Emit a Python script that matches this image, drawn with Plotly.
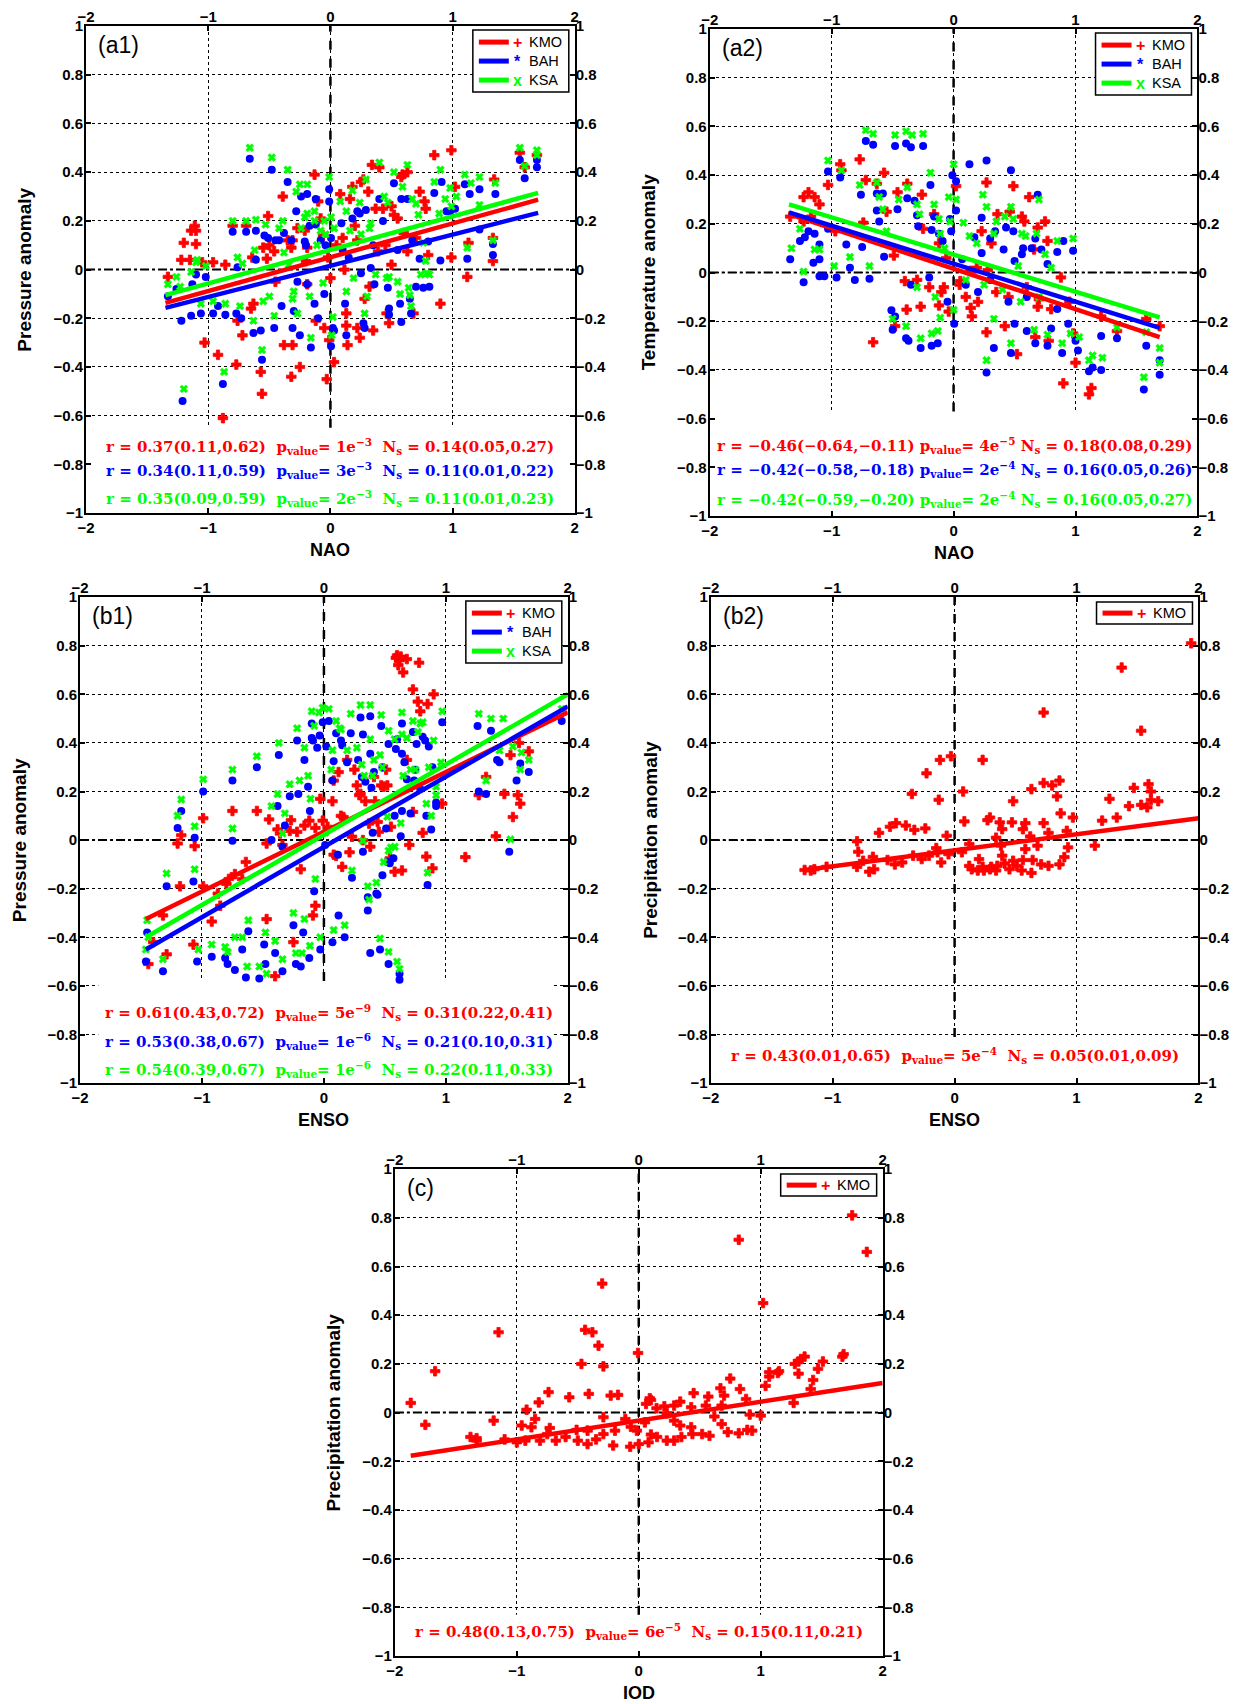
import plotly.graph_objects as go

W, H = 1242, 1704          # target picture size
OFF = 8                    # default page margin around the figure
S = 0.99                   # observed page-to-picture scale
FW, FH = 1238, 1705        # figure size in page pixels
RED, BLUE, GREEN = "#ff0000", "#0000ff", "#00ff00"

# ---------------- data (index value, anomaly) ----------------
A1_KMO = [(-1.33,-0.03),(-1.22,0.04),(-1.20,0.11),(-1.14,0.16),(-1.11,0.18),(-1.10,0.16),(-1.10,0.105),(-1.15,0.04),(-1.05,0.03),(-0.96,0.03),(-0.86,0.02),(-1.03,-0.30),(-0.92,-0.35),(-0.88,-0.61),(-0.77,-0.39),(-0.72,-0.27),(-0.76,-0.21),(-0.80,0.18),(-0.69,0.18),(-0.64,0.05),(-0.65,-0.16),(-0.63,-0.14),(-0.57,-0.42),(-0.56,-0.51),(-0.55,0.09),(-0.52,0.045),(-0.51,0.22),(-0.50,0.10),(-0.46,0.075),(-0.39,0.30),(-0.38,-0.31),(-0.31,-0.31),(-0.32,-0.44),(-0.25,-0.40),(-0.32,0.09),(-0.31,0.12),(-0.27,0.17),(-0.21,0.16),(-0.20,0.035),(-0.19,0.09),(-0.19,-0.06),(-0.13,0.39),(-0.10,0.28),(-0.08,0.21),(-0.06,0.14),(-0.12,-0.21),(-0.05,-0.24),(-0.03,-0.45),(-0.01,-0.29),(0.0,-0.035),(0.03,-0.38),(0.08,0.31),(0.115,0.0),(0.13,-0.18),(0.13,-0.23),(0.14,-0.31),(0.16,0.29),(0.18,0.34),(0.20,0.18),(0.22,-0.24),(0.24,-0.28),(0.25,0.36),(0.27,0.37),(0.31,0.32),(0.34,0.43),(0.40,0.42),(0.35,-0.25),(0.32,-0.07),(0.37,0.25),(0.39,0.075),(0.43,0.25),(0.46,-0.18),(0.48,-0.22),(0.50,0.02),(0.50,0.26),(0.52,0.225),(0.55,0.21),(0.58,0.38),(0.59,0.39),(0.63,0.40),(0.63,0.075),(0.68,-0.18),(0.73,0.32),(0.77,0.28),(0.78,0.25),(0.80,0.06),(0.85,0.47),(0.90,-0.14),(0.99,0.49),(0.99,0.05),(1.02,0.34),(1.13,0.11),(1.12,-0.03),(1.34,0.37),(1.33,0.035),(1.33,0.13),(1.55,0.48),(1.59,0.42),(1.69,0.47),(-0.35,0.12),(0.05,0.10),(0.10,0.13),(0.22,0.12),(0.60,0.15),(-0.45,-0.05),(0.28,-0.12),(-0.02,0.05),(0.45,0.10),(0.70,0.13)]
A1_BAH = [(-1.33,-0.11),(-1.26,-0.08),(-1.22,-0.21),(-1.21,-0.54),(-1.14,-0.19),(-1.13,-0.06),(-1.10,-0.02),(-1.06,-0.18),(-1.02,-0.03),(-0.96,-0.18),(-0.92,-0.15),(-0.88,-0.47),(-0.86,-0.185),(-0.80,0.155),(-0.77,-0.18),(-0.73,-0.20),(-0.76,0.01),(-0.69,0.155),(-0.66,0.455),(-0.63,-0.26),(-0.61,0.16),(-0.61,0.04),(-0.57,-0.25),(-0.56,-0.37),(-0.54,0.14),(-0.51,0.13),(-0.48,0.41),(-0.46,-0.24),(-0.42,0.12),(-0.40,-0.15),(-0.38,0.15),(-0.35,0.36),(-0.32,0.12),(-0.31,-0.24),(-0.30,-0.17),(-0.28,0.24),(-0.27,-0.05),(-0.25,-0.27),(-0.24,0.30),(-0.21,0.115),(-0.19,0.31),(-0.19,-0.06),(-0.17,0.18),(-0.16,-0.32),(-0.13,-0.14),(-0.12,0.185),(-0.12,0.29),(-0.10,-0.20),(-0.05,-0.10),(-0.04,0.10),(-0.01,0.33),(-0.01,0.28),(0.005,-0.315),(0.02,-0.24),(0.005,0.13),(0.03,-0.25),(0.09,0.19),(0.12,-0.14),(0.13,-0.27),(0.18,0.21),(0.22,0.24),(0.24,0.23),(0.25,-0.015),(0.27,-0.22),(0.28,-0.24),(0.29,0.245),(0.33,0.007),(0.36,-0.06),(0.40,0.29),(0.43,0.20),(0.47,-0.075),(0.48,-0.16),(0.48,-0.185),(0.52,0.355),(0.57,-0.14),(0.58,0.29),(0.58,-0.215),(0.63,0.29),(0.65,-0.12),(0.66,-0.18),(0.67,0.12),(0.70,-0.07),(0.73,0.045),(0.76,-0.075),(0.80,0.115),(0.81,-0.07),(0.85,0.315),(0.90,0.037),(0.91,0.36),(0.95,0.24),(0.98,0.24),(1.02,0.25),(1.10,0.35),(1.12,0.045),(1.14,0.31),(1.22,0.33),(1.22,0.165),(1.33,0.06),(1.33,0.105),(1.35,0.31),(1.55,0.45),(1.59,0.375),(1.69,0.45),(1.69,0.42),(-0.45,0.12),(-0.20,0.10),(0.10,0.08),(0.15,0.05),(0.35,0.10),(-0.08,0.12),(0.55,0.08)]
A1_KSA = [(-1.33,-0.06),(-1.26,-0.03),(-1.20,-0.49),(-1.23,-0.07),(-1.14,-0.01),(-1.10,0.03),(-1.09,0.04),(-1.06,-0.14),(-1.02,0.015),(-0.96,-0.13),(-0.87,-0.42),(-0.86,-0.14),(-0.80,0.20),(-0.76,0.05),(-0.74,-0.15),(-0.72,0.025),(-0.69,0.20),(-0.66,0.50),(-0.62,0.08),(-0.61,0.205),(-0.63,-0.21),(-0.56,-0.33),(-0.55,-0.13),(-0.53,0.185),(-0.50,-0.11),(-0.48,0.46),(-0.46,-0.19),(-0.42,0.17),(-0.39,0.20),(-0.38,0.07),(-0.35,0.41),(-0.34,0.02),(-0.31,-0.12),(-0.30,-0.09),(-0.28,0.32),(-0.27,-0.18),(-0.25,0.35),(-0.24,0.17),(-0.21,0.215),(-0.19,0.35),(-0.19,0.23),(-0.17,-0.11),(-0.16,-0.28),(-0.13,0.20),(-0.13,0.24),(-0.11,0.10),(-0.08,0.16),(-0.06,-0.055),(-0.05,0.20),(-0.04,0.145),(-0.01,0.38),(0.005,0.215),(0.02,-0.195),(0.01,-0.27),(0.03,0.17),(0.08,0.28),(0.13,0.24),(0.13,-0.09),(0.16,0.16),(0.18,0.325),(0.19,-0.035),(0.24,0.275),(0.25,0.145),(0.28,-0.18),(0.30,-0.11),(0.29,0.37),(0.32,0.17),(0.33,0.19),(0.37,-0.02),(0.40,0.44),(0.44,0.30),(0.46,-0.035),(0.47,0.275),(0.48,-0.03),(0.52,0.40),(0.55,-0.05),(0.57,-0.10),(0.59,0.34),(0.63,0.43),(0.64,-0.075),(0.65,-0.105),(0.66,-0.15),(0.67,0.29),(0.70,0.27),(0.72,0.225),(0.74,-0.02),(0.76,0.11),(0.78,0.035),(0.79,-0.015),(0.81,-0.02),(0.85,0.36),(0.89,0.23),(0.90,0.41),(0.94,0.29),(0.98,0.335),(0.99,0.26),(1.03,0.30),(1.10,0.39),(1.12,0.09),(1.15,0.355),(1.22,0.38),(1.22,0.265),(1.33,0.12),(1.35,0.355),(1.55,0.50),(1.59,0.425),(1.69,0.49),(1.69,0.47)]
A1_FIT_X = [-1.35, 1.70]
A1_KMO_FIT = [-0.137, 0.287]
A1_BAH_FIT = [-0.157, 0.233]
A1_KSA_FIT = [-0.105, 0.315]

A2_KMO = [(-1.34,0.23),(-1.23,0.31),(-1.19,0.33),(-1.14,0.31),(-1.10,0.28),(-1.23,0.21),(-1.17,0.23),(-1.03,0.36),(-0.93,0.445),(-0.97,0.17),(-0.92,0.42),(-0.77,0.465),(-0.74,0.205),(-0.72,0.38),(-0.63,0.365),(-0.57,0.41),(-0.55,0.25),(-0.49,0.07),(-0.46,0.33),(-0.38,0.365),(-0.40,-0.035),(-0.26,0.32),(-0.25,0.18),(-0.16,0.24),(-0.12,0.12),(-0.08,-0.06),(-0.06,0.06),(0.02,0.355),(0.055,-0.035),(0.14,0.007),(0.19,0.02),(0.23,0.17),(0.27,0.37),(0.28,0.01),(0.31,0.12),(0.36,0.24),(0.46,0.25),(0.49,0.355),(0.56,0.23),(0.58,0.21),(0.62,0.31),(0.66,0.095),(0.69,0.185),(0.75,0.21),(0.77,0.13),(0.88,-0.02),(-0.66,-0.286),(-0.48,-0.22),(-0.385,-0.152),(-0.27,-0.14),(-0.12,-0.135),(-0.04,-0.16),(0.14,-0.145),(0.15,-0.18),(0.27,-0.245),(0.42,-0.22),(0.52,-0.335),(0.67,-0.265),(0.69,-0.14),(0.78,-0.28),(0.90,-0.455),(0.98,-0.25),(1.00,-0.37),(1.11,-0.50),(1.13,-0.474),(1.21,-0.18),(1.34,-0.24),(1.58,-0.19),(1.69,-0.22),(0.05,-0.05),(0.10,-0.10),(0.20,-0.12),(0.35,-0.08),(0.45,-0.10),(0.60,-0.06),(0.70,-0.11),(0.80,-0.15),(0.95,-0.12),(-0.30,-0.03),(-0.20,-0.06),(-0.10,-0.08)]
A2_BAH = [(-1.34,0.055),(-1.23,-0.04),(-1.26,0.13),(-1.22,0.145),(-1.19,0.17),(-1.14,0.16),(-1.15,0.04),(-1.10,-0.015),(-1.10,0.055),(-1.10,0.115),(-1.06,-0.015),(-1.03,0.415),(-1.03,0.18),(-0.96,-0.02),(-0.93,0.39),(-0.88,0.115),(-0.85,0.02),(-0.81,-0.03),(-0.76,0.32),(-0.75,0.105),(-0.72,0.54),(-0.69,-0.025),(-0.66,0.525),(-0.63,0.325),(-0.63,0.255),(-0.61,0.21),(-0.58,0.325),(-0.57,0.065),(-0.48,0.52),(-0.46,0.26),(-0.39,0.53),(-0.38,0.305),(-0.35,0.515),(-0.32,0.295),(-0.30,0.235),(-0.29,0.19),(-0.25,0.52),(-0.19,0.36),(-0.18,0.175),(-0.16,0.23),(-0.12,0.16),(-0.09,0.13),(-0.03,0.22),(-0.02,0.17),(-0.01,0.40),(0.02,0.375),(0.02,0.255),(0.07,0.055),(0.13,0.445),(0.17,0.145),(0.23,0.08),(0.27,0.46),(0.23,0.225),(0.30,0.14),(0.34,0.17),(0.41,0.095),(0.43,0.185),(0.47,0.42),(0.49,0.17),(0.50,0.048),(0.56,0.075),(0.57,0.10),(0.64,0.10),(0.67,0.14),(0.69,0.32),(0.72,0.095),(0.77,0.035),(0.85,0.085),(0.90,0.13),(0.98,0.09),(-0.51,-0.155),(-0.48,-0.18),(-0.50,-0.235),(-0.39,-0.27),(-0.37,-0.28),(-0.27,-0.31),(-0.18,-0.30),(-0.13,-0.29),(-0.05,-0.12),(0.005,-0.21),(0.27,-0.41),(0.33,-0.31),(0.47,-0.33),(0.50,-0.21),(0.60,-0.24),(0.67,-0.29),(0.77,-0.30),(0.80,-0.23),(0.89,-0.33),(0.94,-0.21),(1.00,-0.28),(1.02,-0.32),(1.11,-0.405),(1.14,-0.39),(1.21,-0.40),(1.21,-0.26),(1.34,-0.27),(1.56,-0.48),(1.58,-0.30),(1.69,-0.36),(1.69,-0.42),(0.10,-0.05),(0.20,-0.08),(0.30,-0.03),(0.45,-0.12),(0.60,-0.10),(-0.20,-0.02),(-0.35,-0.05),(0.85,-0.15)]
A2_KSA = [(-1.33,0.10),(-1.26,0.18),(-1.23,0.004),(-1.14,0.095),(-1.10,0.095),(-1.03,0.46),(-0.98,0.027),(-0.92,0.42),(-0.85,0.064),(-0.77,0.36),(-0.72,0.585),(-0.69,0.027),(-0.66,0.57),(-0.63,0.37),(-0.61,0.31),(-0.58,0.26),(-0.55,0.17),(-0.48,0.565),(-0.45,0.30),(-0.39,0.58),(-0.38,0.35),(-0.34,0.565),(-0.30,0.28),(-0.28,0.24),(-0.25,0.57),(-0.19,0.41),(-0.16,0.28),(-0.12,0.22),(-0.11,0.16),(-0.075,0.10),(-0.04,0.31),(-0.03,0.21),(0.0,0.445),(0.02,0.30),(0.08,0.205),(0.13,0.15),(0.19,0.12),(0.24,0.32),(0.27,0.27),(0.33,0.16),(0.35,0.21),(0.42,0.23),(0.47,0.27),(0.49,0.22),(0.53,0.027),(0.56,0.16),(0.59,0.15),(0.68,0.16),(0.70,0.30),(0.75,0.075),(0.80,0.02),(0.85,0.13),(0.98,0.14),(-0.50,-0.19),(-0.39,-0.22),(-0.27,-0.27),(-0.18,-0.25),(-0.13,-0.24),(-0.11,-0.185),(0.0,-0.153),(0.27,-0.36),(0.33,-0.19),(0.47,-0.29),(0.66,-0.235),(0.77,-0.255),(0.89,-0.29),(0.96,-0.25),(1.03,-0.265),(1.11,-0.36),(1.14,-0.34),(1.22,-0.35),(1.34,-0.225),(1.56,-0.43),(1.58,-0.245),(1.69,-0.31),(1.69,-0.37),(0.10,-0.03),(0.25,-0.05),(0.40,-0.07),(0.55,-0.12),(0.70,-0.10),(-0.30,-0.06),(-0.15,-0.10)]
A2_FIT_X = [-1.35, 1.69]
A2_KMO_FIT = [0.24, -0.265]
A2_BAH_FIT = [0.247, -0.227]
A2_KSA_FIT = [0.28, -0.184]

B1_KMO = [(-1.44,-0.51),(-1.40,-0.42),(-1.32,-0.31),(-1.29,-0.47),(-1.20,-0.014),(-1.17,0.02),(-1.18,-0.19),(-1.07,-0.43),(-1.06,-0.025),(-0.99,0.09),(-0.99,-0.19),(-0.92,-0.335),(-0.87,-0.22),(-0.85,-0.27),(-0.80,-0.18),(-0.78,-0.16),(-0.75,0.12),(-0.73,-0.14),(-0.67,-0.16),(-0.64,-0.09),(-0.55,0.12),(-0.47,-0.325),(-0.47,-0.014),(-0.45,0.085),(-0.40,-0.56),(-0.38,0.044),(-0.36,0.027),(-0.34,-0.02),(-0.28,0.038),(-0.27,0.082),(-0.25,-0.42),(-0.22,0.034),(-0.19,-0.12),(-0.16,0.06),(-0.12,0.08),(-0.09,-0.31),(-0.07,-0.27),(-0.07,0.05),(-0.03,0.17),(-0.01,0.08),(0.03,0.055),(0.07,0.16),(0.08,0.245),(0.08,-0.06),(0.10,-0.065),(0.12,0.28),(0.14,0.10),(0.15,-0.11),(0.16,0.095),(0.19,0.33),(0.21,-0.05),(0.23,0.014),(0.25,0.29),(0.27,0.225),(0.29,0.185),(0.30,0.19),(0.32,0.0),(0.34,0.16),(0.37,0.068),(0.38,-0.027),(0.41,0.26),(0.42,0.16),(0.44,0.075),(0.45,0.034),(0.47,0.225),(0.49,0.22),(0.51,0.29),(0.52,0.225),(0.54,-0.075),(0.55,0.055),(0.58,-0.13),(0.59,0.75),(0.60,0.76),(0.62,0.74),(0.63,0.755),(0.61,0.72),(0.65,0.69),(0.68,0.745),(0.64,-0.125),(0.68,0.33),(0.70,-0.02),(0.73,0.62),(0.73,0.116),(0.77,0.57),(0.78,0.73),(0.79,0.53),(0.81,0.03),(0.84,-0.068),(0.85,0.56),(0.89,-0.116),(0.90,0.60),(0.97,0.15),(1.16,-0.07),(1.27,0.185),(1.33,0.26),(1.41,0.016),(1.48,0.19),(1.53,0.35),(1.55,0.095),(1.59,0.185),(1.61,0.15),(1.68,0.365),(1.60,0.40)]
B1_BAH = [(-1.46,-0.50),(-1.45,-0.38),(-1.32,-0.54),(-1.29,-0.19),(-1.20,0.05),(-1.17,0.12),(-1.06,0.01),(-1.07,-0.17),(-1.04,-0.50),(-0.99,0.20),(-0.92,-0.48),(-0.81,-0.485),(-0.79,-0.51),(-0.75,0.245),(-0.75,-0.003),(-0.73,-0.535),(-0.67,-0.45),(-0.64,-0.565),(-0.62,-0.375),(-0.55,0.30),(-0.53,-0.57),(-0.49,-0.43),(-0.48,-0.51),(-0.43,0.0),(-0.40,-0.465),(-0.38,0.14),(-0.37,0.35),(-0.34,-0.54),(-0.34,-0.027),(-0.32,0.06),(-0.28,0.18),(-0.25,-0.35),(-0.23,-0.51),(-0.22,0.41),(-0.21,0.19),(-0.19,-0.52),(-0.17,-0.38),(-0.16,0.33),(-0.13,0.22),(-0.12,-0.485),(-0.115,0.12),(-0.10,0.42),(-0.10,0.48),(-0.09,0.41),(-0.08,-0.21),(-0.055,0.38),(-0.035,0.43),(-0.03,-0.45),(-0.01,0.485),(0.01,-0.02),(0.02,0.385),(0.04,0.49),(0.07,0.245),(0.07,-0.42),(0.08,0.325),(0.10,0.44),(0.115,-0.06),(0.12,-0.31),(0.14,0.41),(0.15,0.39),(0.17,-0.40),(0.19,0.32),(0.22,0.44),(0.23,-0.155),(0.28,0.33),(0.30,0.505),(0.31,0.26),(0.32,-0.048),(0.32,0.435),(0.34,0.24),(0.36,-0.235),(0.36,-0.29),(0.38,0.51),(0.38,0.355),(0.39,0.215),(0.38,-0.465),(0.40,0.03),(0.41,0.28),(0.43,-0.22),(0.44,-0.225),(0.47,0.47),(0.46,-0.45),(0.48,0.30),(0.48,-0.145),(0.51,0.048),(0.52,-0.09),(0.53,0.395),(0.53,-0.51),(0.54,-0.095),(0.57,-0.075),(0.58,0.10),(0.59,0.375),(0.60,0.415),(0.62,-0.55),(0.62,-0.575),(0.63,0.016),(0.64,0.355),(0.64,0.48),(0.64,0.12),(0.66,0.32),(0.68,0.25),(0.71,0.11),(0.73,0.445),(0.74,0.245),(0.75,0.29),(0.76,0.395),(0.79,0.21),(0.81,0.425),(0.83,0.41),(0.84,0.10),(0.86,0.385),(0.88,0.044),(0.89,0.30),(0.92,0.155),(0.92,0.14),(0.85,-0.185),(0.97,0.485),(1.27,0.20),(1.33,0.19),(1.37,0.45),(1.42,0.33),(1.44,0.32),(1.52,-0.048),(1.58,0.245),(1.61,0.315),(1.68,0.28),(1.95,0.49),(1.26,0.47)]
B1_KSA = [(-1.45,-0.33),(-1.44,-0.40),(-1.46,-0.45),(-1.32,-0.49),(-1.29,-0.137),(-1.20,0.10),(-1.17,0.167),(-1.06,0.057),(-1.06,-0.12),(-1.03,-0.45),(-0.99,0.25),(-0.92,-0.43),(-0.81,-0.44),(-0.79,-0.46),(-0.75,0.29),(-0.75,0.048),(-0.73,-0.40),(-0.67,-0.40),(-0.63,-0.52),(-0.62,-0.33),(-0.55,0.345),(-0.53,-0.52),(-0.48,-0.38),(-0.47,-0.55),(-0.43,0.14),(-0.40,-0.415),(-0.38,0.19),(-0.37,0.40),(-0.34,-0.49),(-0.34,0.027),(-0.32,0.11),(-0.28,0.23),(-0.25,-0.30),(-0.23,-0.465),(-0.22,0.46),(-0.20,0.245),(-0.18,-0.465),(-0.16,-0.325),(-0.16,0.38),(-0.13,0.265),(-0.115,-0.435),(-0.11,0.17),(-0.10,0.53),(-0.08,0.47),(-0.07,-0.16),(-0.04,0.525),(-0.03,-0.40),(-0.01,0.545),(0.01,0.03),(0.04,0.54),(0.06,0.29),(0.07,0.37),(0.08,-0.37),(0.10,0.49),(0.13,0.46),(0.14,0.455),(0.17,-0.35),(0.19,0.37),(0.22,0.52),(0.23,-0.125),(0.27,0.38),(0.30,0.556),(0.31,0.31),(0.32,-0.003),(0.33,0.265),(0.36,-0.19),(0.37,-0.245),(0.38,0.556),(0.38,0.415),(0.40,0.265),(0.41,0.33),(0.43,-0.175),(0.46,-0.405),(0.46,0.35),(0.47,0.515),(0.48,0.30),(0.49,-0.09),(0.52,0.096),(0.53,0.45),(0.53,-0.46),(0.53,-0.044),(0.55,-0.03),(0.58,0.415),(0.58,-0.027),(0.60,-0.50),(0.62,-0.53),(0.63,0.07),(0.64,0.435),(0.64,0.525),(0.65,0.265),(0.68,0.42),(0.71,0.29),(0.73,0.49),(0.75,0.29),(0.77,0.445),(0.79,0.48),(0.81,0.485),(0.84,0.15),(0.85,-0.134),(0.86,0.30),(0.88,0.10),(0.90,0.41),(0.92,0.185),(0.92,0.22),(0.96,0.32),(0.97,0.53),(1.27,0.52),(1.33,0.245),(1.37,0.50),(1.44,0.37),(1.47,0.50),(1.53,0.003),(1.55,0.385),(1.61,0.29),(1.62,0.36),(1.68,0.33),(1.95,0.54)]
B1_FIT_X = [-1.46, 2.0]
B1_KMO_FIT = [-0.325, 0.526]
B1_BAH_FIT = [-0.45, 0.55]
B1_KSA_FIT = [-0.40, 0.60]

B2_KMO = [(1.94,0.81),(1.37,0.71),(0.73,0.525),(1.53,0.45),(-0.03,0.345),(-0.12,0.33),(0.23,0.33),(-0.23,0.275),(0.73,0.235),(0.86,0.245),(0.80,0.225),(0.63,0.21),(0.07,0.20),(1.59,0.23),(1.61,0.20),(1.47,0.215),(-0.35,0.19),(-0.13,0.166),(0.48,0.16),(0.84,0.18),(1.27,0.17),(1.61,0.165),(1.67,0.16),(1.53,0.145),(1.43,0.14),(1.58,0.135),(0.29,0.093),(0.27,0.082),(0.87,0.11),(0.97,0.093),(1.33,0.093),(1.21,0.08),(-0.48,0.07),(-0.40,0.06),(-0.53,0.055),(-0.62,0.03),(-0.33,0.042),(-0.24,0.048),(0.08,0.077),(0.37,0.073),(0.39,0.045),(0.47,0.073),(0.56,0.045),(0.58,0.07),(0.73,0.07),(0.62,0.015),(0.77,0.03),(0.92,0.038),(-0.065,0.018),(0.34,0.01),(-0.80,-0.005),(-0.79,-0.048),(1.15,-0.023),(0.68,-0.023),(0.38,-0.023),(0.58,-0.037),(0.93,-0.03),(0.39,-0.064),(0.12,-0.016),(0.06,-0.05),(-0.15,-0.033),(-0.14,-0.05),(-0.21,-0.064),(-0.27,-0.078),(-0.34,-0.064),(-0.43,-0.092),(-0.49,-0.10),(-0.55,-0.082),(-0.67,-0.069),(-0.75,-0.085),(-0.11,-0.092),(-0.05,-0.058),(0.12,-0.106),(0.20,-0.078),(0.48,-0.085),(0.56,-0.082),(0.64,-0.082),(0.71,-0.10),(0.77,-0.106),(0.86,-0.10),(0.90,-0.07),(0.51,-0.106),(0.35,-0.106),(0.30,-0.11),(0.23,-0.11),(0.41,-0.096),(-1.05,-0.11),(-1.23,-0.123),(-0.80,-0.11),(-1.18,-0.125),(-0.70,-0.13),(0.14,-0.12),(0.19,-0.125),(0.24,-0.125),(0.29,-0.12),(0.34,-0.125),(0.45,-0.12),(0.55,-0.125),(0.63,-0.135),(-0.66,-0.12),(-1.15,-0.12)]
B2_FIT_X = [-1.23, 2.0]
B2_KMO_FIT = [-0.123, 0.09]

C_KMO = [(1.75,0.81),(0.82,0.71),(1.87,0.66),(-0.30,0.53),(1.02,0.45),(-1.15,0.33),(-0.44,0.34),(-0.38,0.33),(-0.33,0.275),(-0.006,0.245),(-0.47,0.20),(-0.29,0.19),(-1.67,0.17),(-1.87,0.04),(-1.75,-0.05),(1.28,0.20),(1.31,0.21),(1.33,0.22),(1.36,0.23),(1.51,0.21),(1.67,0.23),(1.68,0.24),(1.07,0.166),(1.07,0.148),(1.15,0.17),(1.14,0.163),(1.31,0.16),(1.47,0.18),(1.43,0.134),(1.41,0.097),(1.04,0.11),(0.75,0.14),(0.83,0.097),(0.67,0.10),(0.70,0.07),(0.88,0.056),(0.45,0.08),(0.57,0.066),(0.68,0.029),(0.43,0.022),(0.55,0.029),(1.27,0.04),(0.34,0.045),(0.21,0.026),(0.09,0.059),(0.10,0.052),(0.06,0.036),(0.29,0.029),(-0.74,0.084),(-0.57,0.063),(-0.41,0.077),(-0.23,0.07),(-0.17,0.073),(-0.82,0.042),(-0.92,0.012),(0.91,-0.008),(1.0,-0.012),(-0.29,-0.019),(-1.19,-0.033),(-0.96,-0.053),(-0.85,-0.026),(-0.88,-0.06),(-0.73,-0.063),(-0.75,-0.088),(-0.51,-0.071),(-0.42,-0.074),(-0.29,-0.088),(-0.195,-0.074),(-0.11,-0.026),(-0.065,-0.058),(-0.016,-0.074),(0.05,-0.04),(0.146,0.018),(0.23,-0.003),(0.29,-0.033),(0.34,-0.053),(0.43,-0.06),(0.44,-0.088),(0.52,-0.088),(0.58,-0.095),(0.62,-0.016),(0.68,-0.047),(0.73,-0.08),(0.82,-0.085),(0.89,-0.071),(0.93,-0.074),(-1.38,-0.10),(-1.33,-0.105),(-1.33,-0.115),(-1.0,-0.122),(-0.93,-0.115),(-0.81,-0.115),(-0.68,-0.115),(-0.50,-0.115),(-0.42,-0.129),(-0.21,-0.135),(-0.07,-0.14),(0.0,-0.129),(0.08,-0.122),(0.23,-0.115),(0.29,-0.115),(-1.10,-0.11),(-0.60,-0.10),(-0.35,-0.11),(0.15,-0.10),(0.35,-0.10),(0.10,-0.09)]
C_FIT_X = [-1.87, 2.0]
C_KMO_FIT = [-0.177, 0.122]

# statistics text: (r with CI, p mantissa, p exponent, Ns with CI)
A1_STATS = [("0.37(0.11,0.62)", "1", "3", "0.14(0.05,0.27)"),
            ("0.34(0.11,0.59)", "3", "3", "0.11(0.01,0.22)"),
            ("0.35(0.09,0.59)", "2", "3", "0.11(0.01,0.23)")]
A2_STATS = [("\u22120.46(\u22120.64,\u22120.11)", "4", "5", "0.18(0.08,0.29)"),
            ("\u22120.42(\u22120.58,\u22120.18)", "2", "4", "0.16(0.05,0.26)"),
            ("\u22120.42(\u22120.59,\u22120.20)", "2", "4", "0.16(0.05,0.27)")]
B1_STATS = [("0.61(0.43,0.72)", "5", "9", "0.31(0.22,0.41)"),
            ("0.53(0.38,0.67)", "1", "6", "0.21(0.10,0.31)"),
            ("0.54(0.39,0.67)", "1", "6", "0.22(0.11,0.33)")]
B2_STATS = [("0.43(0.01,0.65)", "5", "4", "0.05(0.01,0.09)")]
C_STATS = [("0.48(0.13,0.75)", "6", "5", "0.15(0.11,0.21)")]

STATIONS = ["KMO", "BAH", "KSA"]
X_TICKS = [-2, -1, 0, 1, 2]

STYLE = {
    "KMO": dict(color=RED, symbol="cross", size=8, lw=0.8, leg="+"),
    "BAH": dict(color=BLUE, symbol="circle", size=8, lw=0, leg="*"),
    "KSA": dict(color=GREEN, symbol="x", size=7, lw=0.5, leg="x"),
}

# panel boxes in picture pixels: (left, right, top, bottom)
PANELS = [
    dict(label="(a1)", xt="NAO", yt="Pressure anomaly", px=(85, 574, 25, 512),
         pts=[A1_KMO, A1_BAH, A1_KSA], fx=A1_FIT_X, fy=[A1_KMO_FIT, A1_BAH_FIT, A1_KSA_FIT],
         stats=A1_STATS, sy=[-0.726, -0.826, -0.942], sx=0.0, box=(-2, 2, -0.65), sep="\u00a0\u00a0"),
    dict(label="(a2)", xt="NAO", yt="Temperature anomaly", px=(709, 1197, 28, 515),
         pts=[A2_KMO, A2_BAH, A2_KSA], fx=A2_FIT_X, fy=[A2_KMO_FIT, A2_BAH_FIT, A2_KSA_FIT],
         stats=A2_STATS, sy=[-0.71, -0.81, -0.93], sx=0.01, box=(-2, 2, -0.57), sep="\u00a0"),
    dict(label="(b1)", xt="ENSO", yt="Pressure anomaly", px=(79, 567, 596, 1082),
         pts=[B1_KMO, B1_BAH, B1_KSA], fx=B1_FIT_X, fy=[B1_KMO_FIT, B1_BAH_FIT, B1_KSA_FIT],
         stats=B1_STATS, sy=[-0.708, -0.828, -0.945], sx=0.04, box=(-1.85, 1.88, -0.58), sep="\u00a0\u00a0"),
    dict(label="(b2)", xt="ENSO", yt="Precipitation anomaly", px=(710, 1198, 596, 1082),
         pts=[B2_KMO], fx=B2_FIT_X, fy=[B2_KMO_FIT],
         stats=B2_STATS, sy=[-0.885], sx=0.0, box=(-2, 2, -0.81), sep="\u00a0\u00a0"),
    dict(label="(c)", xt="IOD", yt="Precipitation anomaly", px=(394, 882, 1168, 1655),
         pts=[C_KMO], fx=C_FIT_X, fy=[C_KMO_FIT],
         stats=C_STATS, sy=[-0.90], sx=0.0, box=(-2, 2, -0.83), sep="\u00a0\u00a0"),
]

TICKFONT = dict(family="Liberation Sans", size=15, color="black", weight="bold")

def pxx(p):
    return (p / S - OFF) / FW

def pxy(p):
    return 1 - (p / S - OFF) / FH

def sid(n):
    return "" if n == 1 else str(n)

fig = go.Figure()
layout = dict(width=FW, height=FH, margin=dict(l=0, r=0, t=0, b=0),
              paper_bgcolor="white", plot_bgcolor="white", showlegend=False)
shapes, annots = [], []

for k, p in enumerate(PANELS):
    mx, tx, my, ry = 2 * k + 1, 2 * k + 2, 2 * k + 1, 2 * k + 2
    xr, yr = "x" + sid(mx), "y" + sid(my)
    xt_, yr_ = "x" + sid(tx), "y" + sid(ry)
    L, R, T, B = p["px"]
    common_x = dict(range=[-2, 2], tickvals=X_TICKS, ticks="inside", ticklen=5, tickwidth=1.5,
                    tickcolor="black", tickfont=TICKFONT, zeroline=False, fixedrange=True)
    common_y = dict(range=[-1, 1], tick0=-1, dtick=0.2, ticks="inside", ticklen=5, tickwidth=1.5,
                    tickcolor="black", tickfont=TICKFONT, zeroline=False, fixedrange=True)
    layout["xaxis" + sid(mx)] = dict(domain=[pxx(L), pxx(R)], anchor=yr, showline=True, linewidth=2,
                                     linecolor="black", mirror=True, showgrid=True, gridcolor="black",
                                     griddash="dot", gridwidth=1, **common_x)
    layout["xaxis" + sid(tx)] = dict(overlaying=xr, side="top", anchor=yr, showgrid=False,
                                     showline=False, visible=True, **common_x)
    layout["yaxis" + sid(my)] = dict(domain=[pxy(B), pxy(T)], anchor=xr, showline=True, linewidth=2,
                                     linecolor="black", mirror=True, showgrid=True, gridcolor="black",
                                     griddash="dot", gridwidth=1, ticklabelstandoff=-2, **common_y)
    layout["yaxis" + sid(ry)] = dict(overlaying=yr, side="right", anchor=xr, showgrid=False,
                                     showline=False, visible=True, ticklabelstandoff=0, **common_y)

    n = len(p["pts"])
    names = STATIONS[:n]
    for name, pts in zip(names, p["pts"]):
        st = STYLE[name]
        fig.add_trace(go.Scatter(x=[a for a, b in pts], y=[b for a, b in pts], mode="markers",
                                 marker=dict(color=st["color"], symbol=st["symbol"], size=st["size"],
                                             line=dict(width=st["lw"], color=st["color"])),
                                 xaxis=xr, yaxis=yr, hoverinfo="skip"))
    for name, fy in zip(names, p["fy"]):
        fig.add_trace(go.Scatter(x=p["fx"], y=fy, mode="lines",
                                 line=dict(color=STYLE[name]["color"], width=4.5),
                                 xaxis=xr, yaxis=yr, hoverinfo="skip"))
    # empty traces so the top and right axes are drawn
    fig.add_trace(go.Scatter(x=[], y=[], mode="markers", xaxis=xt_, yaxis=yr, hoverinfo="skip"))
    fig.add_trace(go.Scatter(x=[], y=[], mode="markers", xaxis=xr, yaxis=yr_, hoverinfo="skip"))

    bx0, bx1, btop = p["box"]
    shapes.append(dict(type="rect", xref=xr, yref=yr, x0=bx0, x1=bx1, y0=-1, y1=btop,
                       fillcolor="white", line=dict(width=0), layer="between"))
    shapes.append(dict(type="line", xref=xr, yref=yr, x0=0, x1=0, y0=btop, y1=1,
                       line=dict(color="black", width=2.5, dash="dash"), layer="between"))
    shapes.append(dict(type="line", xref=xr, yref=yr, x0=-2, x1=2, y0=0, y1=0,
                       line=dict(color="black", width=2, dash="dashdot"), layer="between"))

    # statistics text
    sep = p["sep"]
    for name, s, yv in zip(names, p["stats"], p["sy"]):
        r, pm, pe, ns = s
        txt = (f"<b>r = {r}{sep}p<sub>value</sub>= {pm}e<sup>\u2212{pe}</sup>{sep}"
               f"N<sub>s</sub> = {ns}</b>")
        annots.append(dict(x=p["sx"], y=yv, xref=xr, yref=yr, text=txt, showarrow=False,
                           xanchor="center", yanchor="middle",
                           font=dict(family="DejaVu Serif", size=15, color=STYLE[name]["color"])))

    # panel label
    annots.append(dict(x=pxx(L + 10), y=pxy(T + 19), xref="paper", yref="paper", text=p["label"],
                       showarrow=False, xanchor="left", yanchor="middle",
                       font=dict(family="Liberation Sans", size=23, color="black")))
    # axis titles
    annots.append(dict(x=pxx((L + R) / 2), y=pxy(B + 37), xref="paper", yref="paper", text=p["xt"],
                       showarrow=False, xanchor="center", yanchor="middle",
                       font=dict(family="Liberation Sans", size=18, color="black", weight="bold")))
    annots.append(dict(x=pxx(L - 61), y=pxy((T + B) / 2), xref="paper", yref="paper", text=p["yt"],
                       showarrow=False, xanchor="center", yanchor="middle", textangle=-90,
                       font=dict(family="Liberation Sans", size=19, color="black", weight="bold")))

    # legend box
    if n == 3:
        by0, by1, rows = T + 4, T + 66, [T + 16, T + 35, T + 54]
    else:
        by0, by1, rows = T + 5, T + 27, [T + 16]
    shapes.append(dict(type="rect", xref="paper", yref="paper", x0=pxx(R - 102), x1=pxx(R - 6),
                       y0=pxy(by1), y1=pxy(by0), fillcolor="white",
                       line=dict(color="black", width=1.5), layer="above"))
    for name, ry_ in zip(names, rows):
        st = STYLE[name]
        shapes.append(dict(type="line", xref="paper", yref="paper", x0=pxx(R - 96), x1=pxx(R - 66),
                           y0=pxy(ry_), y1=pxy(ry_), line=dict(color=st["color"], width=5), layer="above"))
        annots.append(dict(x=pxx(R - 57), y=pxy(ry_), xref="paper", yref="paper",
                           text="<b>" + st["leg"] + "</b>", showarrow=False, xanchor="center",
                           yanchor="middle",
                           font=dict(family="Liberation Sans", size=16, color=st["color"])))
        annots.append(dict(x=pxx(R - 48), y=pxy(ry_), xref="paper", yref="paper", text=name,
                           showarrow=False, xanchor="left", yanchor="middle",
                           font=dict(family="Liberation Sans", size=14.5, color="black")))

layout["shapes"] = shapes
layout["annotations"] = annots
fig.update_layout(**layout)
fig.write_html("out.html")
